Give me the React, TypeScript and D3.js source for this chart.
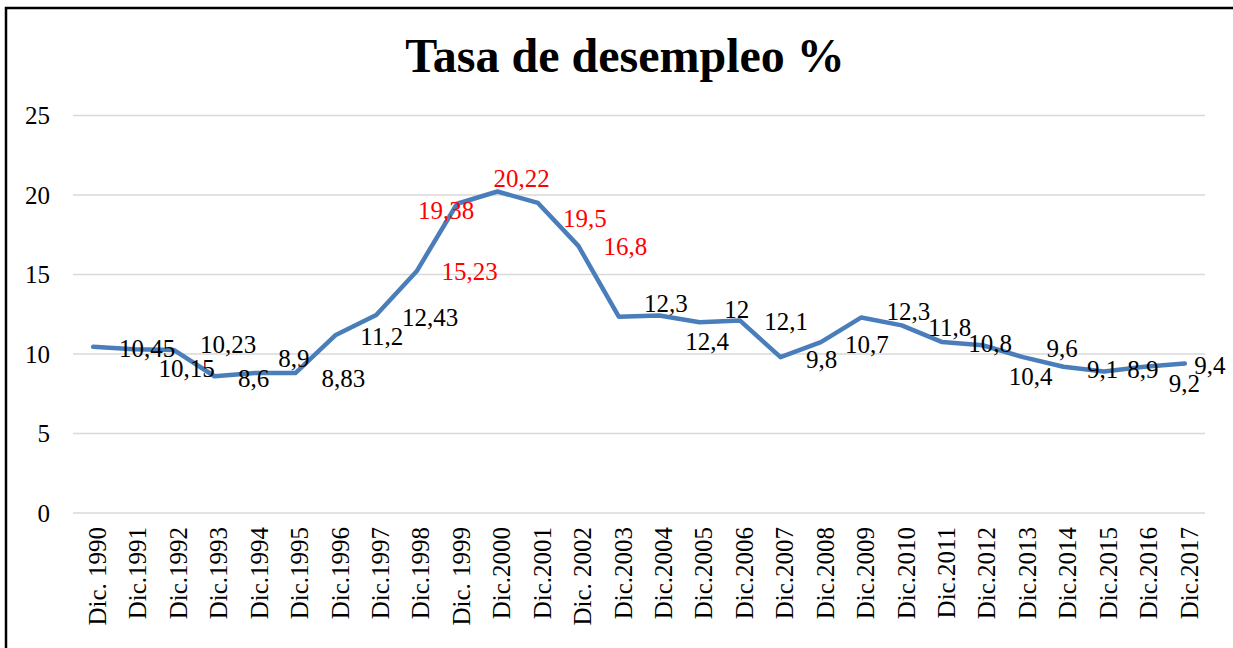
import React, { useEffect, useRef } from 'react';
import * as d3 from 'd3';

const categories = [
  'Dic. 1990', 'Dic.1991', 'Dic.1992', 'Dic.1993', 'Dic.1994', 'Dic.1995', 'Dic.1996',
  'Dic.1997', 'Dic.1998', 'Dic. 1999', 'Dic.2000', 'Dic.2001', 'Dic. 2002', 'Dic.2003',
  'Dic.2004', 'Dic.2005', 'Dic.2006', 'Dic.2007', 'Dic.2008', 'Dic.2009', 'Dic.2010',
  'Dic.2011', 'Dic.2012', 'Dic.2013', 'Dic.2014', 'Dic.2015', 'Dic.2016', 'Dic.2017',
];

// line
const values = [
  10.45, 10.3, 10.25, 8.6, 8.8, 8.8, 11.2, 12.45, 15.2, 19.45, 20.22, 19.5, 16.8, 12.35,
  12.42, 12.0, 12.1, 9.8, 10.75, 12.3, 11.8, 10.75, 10.55, 9.8, 9.2, 8.9, 9.2, 9.4,
];

// text of the hand placed labels
const labels = [
  '10,45', '10,15', '10,23', '8,6', '8,9', '8,83', '11,2', '12,43', '15,23', '19,38',
  '20,22', '19,5', '16,8', '12,3', '12,4', '12', '12,1', '9,8', '10,7', '12,3', '11,8',
  '10,8', '10,4', '9,6', '9,1', '8,9', '9,2', '9,4',
];
const redLabels = [8, 9, 10, 11, 12];

const yTicks = [0, 5, 10, 15, 20, 25];

// label offsets from their point (px)
const labelDx = [54, 53, 54, 39, 39, 48, 46, 54, 53, -11, 24, 47, 47, 47, 48, 37, 46, 41, 46, 47, 48, 48, 48, 39, 39, 39, 40, 25];
const labelDy = [10, 28, 3, 11, -6, 14, 10, 11, 9, 15, -5, 24, 9, -5, 34, -4, 9, 11, 11, 3, 11, 10, 40, 0, 11, 7, 25, 10];

const W = 1233;
const H = 648;
const FONT = '"Liberation Serif", "Times New Roman", serif';

export default function App() {
  const ref = useRef<SVGSVGElement>(null);

  useEffect(() => {
    const svg = d3.select(ref.current);
    svg.selectAll('*').remove();

    const x = d3.scaleBand<string>().domain(categories).range([73, 1205]);
    const y = d3.scaleLinear().domain([0, 25]).range([513, 115.5]);
    const cx = (c: string) => (x(c) as number) + x.bandwidth() / 2;

    svg.append('rect').attr('width', W).attr('height', H).attr('fill', '#fff');

    // outer frame (runs off the right and bottom edges)
    svg.append('rect')
      .attr('x', 6).attr('y', 8)
      .attr('width', W + 20).attr('height', H + 20)
      .attr('fill', 'none').attr('stroke', '#000').attr('stroke-width', 2.5);

    svg.append('text')
      .attr('x', 625).attr('y', 72)
      .attr('text-anchor', 'middle')
      .attr('font-family', FONT).attr('font-weight', 'bold').attr('font-size', 48)
      .text('Tasa de desempleo %');

    // gridlines + y labels
    const grid = svg.append('g');
    grid.selectAll('line').data(yTicks).join('line')
      .attr('x1', 73).attr('x2', 1205)
      .attr('y1', d => y(d)).attr('y2', d => y(d))
      .attr('stroke', '#d9d9d9').attr('stroke-width', 1.5);
    grid.selectAll('text').data(yTicks).join('text')
      .attr('x', 50).attr('y', d => y(d)).attr('dy', '0.35em')
      .attr('text-anchor', 'end')
      .attr('font-family', FONT).attr('font-size', 25)
      .text(d => d);

    // category labels, rotated
    svg.append('g').selectAll('text').data(categories).join('text')
      .attr('transform', d => `translate(${cx(d) + 4},527) rotate(-90)`)
      .attr('dy', '0.35em')
      .attr('text-anchor', 'end')
      .attr('font-family', FONT).attr('font-size', 25)
      .text(d => d);

    const line = d3.line<number>()
      .x((_, i) => cx(categories[i]))
      .y(d => y(d));

    svg.append('path')
      .datum(values)
      .attr('d', line)
      .attr('fill', 'none')
      .attr('stroke', '#4a7ebb')
      .attr('stroke-width', 4.5)
      .attr('stroke-linejoin', 'round')
      .attr('stroke-linecap', 'round');

    svg.append('g').selectAll('text').data(labels).join('text')
      .attr('x', (_, i) => cx(categories[i]) + labelDx[i])
      .attr('y', (_, i) => y(values[i]) + labelDy[i])
      .attr('text-anchor', 'middle')
      .attr('font-family', FONT).attr('font-size', 25)
      .attr('fill', (_, i) => (redLabels.includes(i) ? '#ff0000' : '#000'))
      .text(d => d);
  }, []);

  return (
    <svg
      ref={ref}
      width={W}
      height={H}
      style={{ position: 'absolute', left: 0, top: 0, display: 'block' }}
    />
  );
}
